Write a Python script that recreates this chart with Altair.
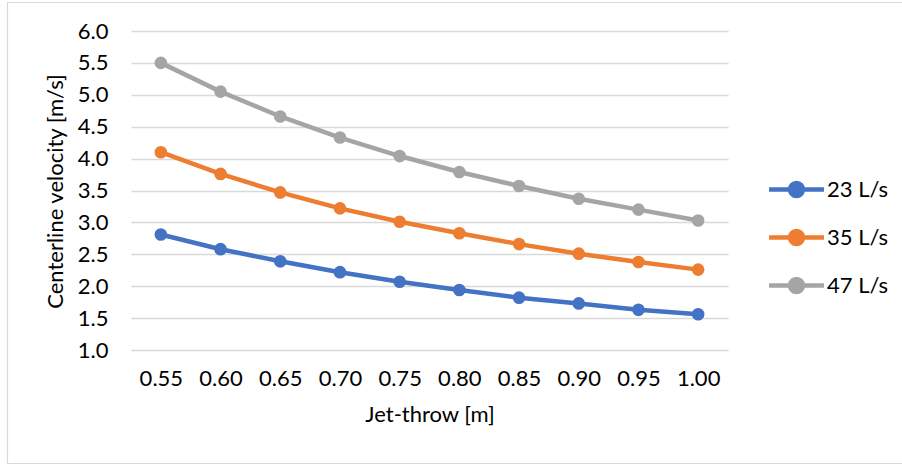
import altair as alt
import pandas as pd

jet_throw = ["0.55", "0.60", "0.65", "0.70", "0.75", "0.80", "0.85", "0.90", "0.95", "1.00"]
v23 = [2.81, 2.58, 2.39, 2.22, 2.07, 1.94, 1.82, 1.73, 1.63, 1.56]
v35 = [4.10, 3.76, 3.47, 3.22, 3.01, 2.83, 2.66, 2.51, 2.38, 2.26]
v47 = [5.50, 5.05, 4.66, 4.33, 4.04, 3.79, 3.57, 3.37, 3.20, 3.03]
series = ["23 L/s", "35 L/s", "47 L/s"]
colors = ["#4472C4", "#ED7D31", "#A5A5A5"]

rows = []
for name, vals in zip(series, [v23, v35, v47]):
    for x, v in zip(jet_throw, vals):
        rows.append({"x": x, "v": v, "s": name})
df = pd.DataFrame(rows)

FONT = "Lato"
FS = 22
# line + dot legend symbol (units: symbol size 30px -> 1 unit = 15px)
sym = ("M -1.83 0 L 1.83 0 "
       "M -0.43 0 A 0.43 0.43 0 1 0 0.43 0 A 0.43 0.43 0 1 0 -0.43 0 Z")

base = alt.Chart(df)
lines = base.mark_line(strokeWidth=4.5, point=alt.OverlayMarkDef(filled=True, size=160, opacity=1)).encode(
    x=alt.X("x:O", sort=jet_throw, scale=alt.Scale(padding=0.5),
            axis=alt.Axis(title="Jet-throw [m]", labelAngle=0, ticks=False, domain=False,
                          labelPadding=18, titlePadding=15, grid=False)),
    y=alt.Y("v:Q", scale=alt.Scale(domain=[1, 6], nice=False, zero=False),
            axis=alt.Axis(title="Centerline velocity [m/s]", values=[1, 1.5, 2, 2.5, 3, 3.5, 4, 4.5, 5, 5.5, 6],
                          format=".1f", ticks=False, domain=False, labelPadding=23,
                          titleX=-64, titleY=160, titleAlign="center", titleBaseline="bottom",
                          titleAngle=270,
                          gridColor="#D9D9D9", gridWidth=1.3)),
    color=alt.Color("s:N", scale=alt.Scale(domain=series, range=colors),
                    legend=alt.Legend(title=None, orient="none", legendX=648, legendY=141,
                                      symbolType=sym, symbolSize=900, symbolStrokeWidth=4.5,
                                      rowPadding=15, labelOffset=13, labelFontSize=FS,
                                      labelFont=FONT, labelColor="#000000")),
)

frame = alt.Chart(alt.Data(values=[{}])).mark_rect(fill=None, stroke="#D9D9D9", strokeWidth=1.2, clip=False).encode(
    x=alt.value(-123.5), x2=alt.value(780), y=alt.value(-28.5), y2=alt.value(432.5)
)

chart = alt.layer(frame, lines).properties(
    width=597, height=319,
    autosize=alt.AutoSizeParams(type="none"),
    padding={"left": 131, "top": 31, "right": 174, "bottom": 115},
    background="white",
).configure_view(stroke=None).configure_axis(
    labelFont=FONT, titleFont=FONT, labelFontSize=FS, titleFontSize=FS,
    labelColor="#000000", titleColor="#000000", titleFontWeight="normal",
)

chart.save("out.html", embed_options={"renderer": "svg", "actions": False})
